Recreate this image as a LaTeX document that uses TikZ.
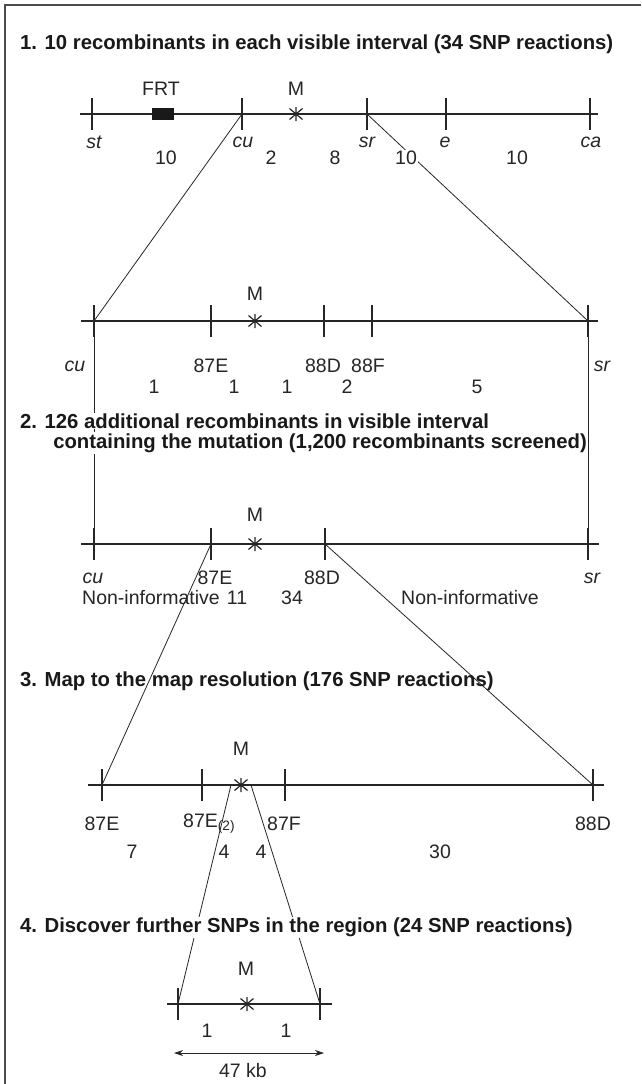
\documentclass[tikz,border=0pt]{standalone}
\usepackage{fontspec}
\setmainfont{Liberation Sans}
\usetikzlibrary{arrows.meta}
\newcommand\astk[1]{\draw[ast] (#1) ++(0,-7) -- ++(0,14) (#1) ++(-6.5,-5.5) -- ++(13,11) (#1) ++(-6.5,5.5) -- ++(13,-11);}
\newcommand\tks[1]{\draw[tk] (#1) ++(0,-16) -- ++(0,32);}
\begin{document}
\begin{tikzpicture}[x=1pt,y=-1pt,
  chrom/.style={line width=1.3pt, draw=black!85},
  tk/.style={line width=1.3pt, draw=black!85},
  ast/.style={line width=1.2pt, draw=black!85},
  conn/.style={line width=0.8pt, draw=black!85},
  lab/.style={font=\fontsize{19.5}{22}\selectfont, fill=white, inner sep=1pt, text=black!85},
  labnf/.style={font=\fontsize{19.5}{22}\selectfont, inner sep=1pt, text=black!85},
  ilab/.style={lab, font=\fontsize{19.5}{22}\selectfont\itshape},
  ttl/.style={font=\fontsize{20.3}{24}\selectfont\bfseries, inner sep=1pt, anchor=west, text=black!90, fill=white},
  ttlnf/.style={font=\fontsize{20.3}{24}\selectfont\bfseries, inner sep=1pt, anchor=west, text=black!90}]
\useasboundingbox (0,0) rectangle (641,1084);
\fill[white] (0,0) rectangle (641,1084);
% frame
\draw[line width=1.5pt, black!70] (641,5) -- (5,5) -- (5,1084);

% ---------- coordinates
% line 1
\coordinate (a1) at (80,114); \coordinate (b1) at (598,114);
\coordinate (st1) at (92,114); \coordinate (cu1) at (242,114);
\coordinate (m1) at (296,114); \coordinate (sr1) at (367,114);
\coordinate (e1) at (446,114); \coordinate (ca1) at (590,114);
% line 2
\coordinate (a2) at (81,321); \coordinate (b2) at (598,321);
\coordinate (cu2) at (94,321); \coordinate (e2) at (211,321);
\coordinate (m2) at (255,321); \coordinate (d2) at (324,321);
\coordinate (f2) at (372,321); \coordinate (sr2) at (588,321);
% line 3
\coordinate (a3) at (81,544); \coordinate (b3) at (599,544);
\coordinate (cu3) at (94,544); \coordinate (e3) at (211,544);
\coordinate (m3) at (255,544); \coordinate (d3) at (325,544);
\coordinate (sr3) at (588,544);
% line 4
\coordinate (a4) at (88,785); \coordinate (b4) at (604,785);
\coordinate (e4) at (102,785); \coordinate (ee4) at (202,785);
\coordinate (m4) at (241,785); \coordinate (f4) at (285,785);
\coordinate (d4) at (593,785);
\coordinate (p4) at (231,785); \coordinate (q4) at (251,785);
% line 5
\coordinate (a5) at (167,1004); \coordinate (b5) at (332,1004);
\coordinate (l5) at (178,1004); \coordinate (m5) at (247,1004);
\coordinate (r5) at (320,1004);
\coordinate (arL) at (174,1053); \coordinate (arR) at (324,1053);

% ---------- connectors
\draw[conn] (cu1) -- (cu2);
\draw[conn] (sr1) -- (sr2);
\draw[conn] (cu2) -- (cu3);
\draw[conn] (sr2) -- (sr3);
\draw[conn] (e3) -- (e4);
\draw[conn] (d3) -- (d4);
\draw[conn] (p4) -- (l5);
\draw[conn] (q4) -- (r5);

% ---------- titles
\node[ttl] (t1) at (19,44) {1. 10 recombinants in each visible interval (34 SNP reactions)};
\node[ttl] (t2a) at (19,421) {2. 126 additional recombinants in visible interval};
\node[ttl, anchor=east] (t2b) at (588,443) {containing the mutation (1,200 recombinants screened)};
\node[ttlnf] (t3) at (19,681) {3. Map to the map resolution (176 SNP reactions)};
\node[ttl] (t4) at (19,927) {4. Discover further SNPs in the region (24 SNP reactions)};

% ---------- line 1
\node[lab] (frt) at (161,89) {FRT};
\node[lab] (mm1) at (296,89) {M};
\node[ilab] (lst) at (94,142) {st};
\node[ilab] (lcu1) at (243,142) {cu};
\node[ilab] (lsr1) at (367,142) {sr};
\node[ilab] (le1) at (445,142) {e};
\node[ilab] (lca1) at (591,142) {ca};
\node[lab] (n11) at (166,158) {10};
\node[lab] (n12) at (271,158) {2};
\node[lab] (n13) at (335,158) {8};
\node[lab] (n14) at (406,158) {10};
\node[lab] (n15) at (517,158) {10};
\draw[chrom] (a1) -- (b1);
\tks{st1}\tks{cu1}\tks{sr1}\tks{e1}\tks{ca1}
\node[fill=black!90, minimum width=22pt, minimum height=12pt, inner sep=0] (frtbox) at (163,114) {};
\astk{m1}

% ---------- line 2
\node[lab] (mm2) at (255,294) {M};
\node[ilab] (lcu2) at (75,366) {cu};
\node[lab] (le2) at (211,366) {87E};
\node[lab] (ld2) at (323,366) {88D};
\node[lab] (lf2) at (368,366) {88F};
\node[ilab] (lsr2) at (602,366) {sr};
\node[lab] (n21) at (154,387) {1};
\node[lab] (n22) at (234,387) {1};
\node[lab] (n23) at (287,387) {1};
\node[lab] (n24) at (347,387) {2};
\node[lab] (n25) at (477,387) {5};
\draw[chrom] (a2) -- (b2);
\tks{cu2}\tks{e2}\tks{d2}\tks{f2}\tks{sr2}
\astk{m2}

% ---------- line 3
\node[lab] (mm3) at (255,515) {M};
\node[ilab] (lcu3) at (93,578) {cu};
\node[labnf] (le3) at (215,578) {87E};
\node[lab] (ld3) at (322,578) {88D};
\node[ilab] (lsr3) at (592,578) {sr};
\node[labnf, anchor=west] (ni1) at (81,598) {Non-informative};
\node[lab] (n31) at (237,598) {11};
\node[lab] (n32) at (292,598) {34};
\node[lab, anchor=west] (ni2) at (400,598) {Non-informative};
\draw[chrom] (a3) -- (b3);
\tks{cu3}\tks{e3}\tks{d3}\tks{sr3}
\astk{m3}

% ---------- line 4
\node[lab] (mm4) at (241,749) {M};
\node[lab] (le4) at (102,824) {87E};
\node[labnf, anchor=west, inner sep=0pt] (lee4) at (183,824) {87E\textsubscript{(2)}};
\node[lab] (lf4) at (284,824) {87F};
\node[lab] (ld4) at (593,824) {88D};
\node[lab] (n41) at (132,852) {7};
\node[lab] (n42) at (224,852) {4};
\node[lab] (n43) at (261,852) {4};
\node[lab] (n44) at (440,852) {30};
\draw[chrom] (a4) -- (b4);
\tks{e4}\tks{ee4}\tks{f4}\tks{d4}
\astk{m4}

% ---------- line 5
\node[lab] (mm5) at (246,969) {M};
\node[lab] (n51) at (207,1031) {1};
\node[lab] (n52) at (286,1031) {1};
\draw[chrom] (a5) -- (b5);
\tks{l5}\tks{r5}
\astk{m5}
\draw[conn, {Stealth[length=9pt,width=6pt]}-{Stealth[length=9pt,width=6pt]}] (arL) -- (arR);
\node[lab] (kb) at (243,1071) {47 kb};
\end{tikzpicture}
\end{document}
